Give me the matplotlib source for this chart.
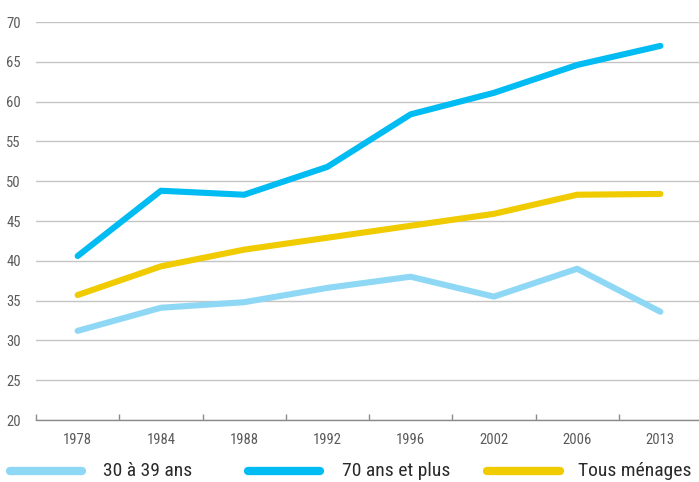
import matplotlib
matplotlib.use("Agg")
import matplotlib.pyplot as plt
from matplotlib.lines import Line2D

years = ["1978", "1984", "1988", "1992", "1996", "2002", "2006", "2013"]
age_30_39 = [31.2, 34.1, 34.8, 36.6, 38.0, 35.5, 39.0, 33.6]
age_70_plus = [40.6, 48.8, 48.3, 51.8, 58.4, 61.1, 64.6, 67.0]
all_households = [35.7, 39.3, 41.4, 42.9, 44.4, 45.9, 48.3, 48.4]
series_labels = ["30 à 39 ans", "70 ans et plus", "Tous ménages"]
series_colors = ["#8fd8f5", "#00bcf2", "#efcb00"]
y_ticks = [20, 25, 30, 35, 40, 45, 50, 55, 60, 65, 70]

plt.rcParams["font.family"] = ["Roboto Condensed", "DejaVu Sans"]

fig = plt.figure(figsize=(6.99, 4.82), dpi=100)
ax = fig.add_axes([36 / 699, 1 - 420 / 482, 666 / 699, 398 / 482])

x = list(range(len(years)))
for values, color in zip([age_30_39, age_70_plus, all_households], series_colors):
    ax.plot(x, values, color=color, lw=4.4, solid_capstyle="round",
            solid_joinstyle="round", zorder=3)

ax.set_xlim(-0.5, len(years) - 0.5)
ax.set_ylim(20, 70)
ax.set_yticks(y_ticks)
ax.set_yticklabels([str(v) for v in y_ticks])
ax.set_xticks(x)
ax.set_xticklabels(years)
ax.set_xticks([i - 0.5 for i in range(len(years))], minor=True)

ax.grid(axis="y", color="#c4c4c4", lw=1.0)
ax.set_axisbelow(True)
for side in ["top", "right", "left"]:
    ax.spines[side].set_visible(False)
ax.spines["bottom"].set_color("#8a8a8a")
ax.spines["bottom"].set_linewidth(1.0)
ax.spines["bottom"].set_zorder(4)

ax.tick_params(axis="y", length=0, pad=11, labelsize=10.5, labelcolor="#5a5a5a")
ax.tick_params(axis="x", which="major", length=0, pad=9, labelsize=10.5,
               labelcolor="#5a5a5a")
ax.tick_params(axis="x", which="minor", direction="in", length=4,
               color="#8a8a8a", width=1.0)

# legend row along the bottom edge
legend_y = 1 - 471 / 482
handle_spans = [(10, 82), (248, 320), (487, 560)]
text_x = [103, 342, 578]
for (x0, x1), tx, label, color in zip(handle_spans, text_x, series_labels, series_colors):
    fig.add_artist(Line2D([x0 / 699, x1 / 699], [legend_y, legend_y],
                          transform=fig.transFigure, color=color, lw=6,
                          solid_capstyle="round"))
    fig.text(tx / 699, legend_y, label, fontsize=14, color="#2a2a2a",
             va="center", ha="left")

fig.savefig("out.png", dpi=100)
